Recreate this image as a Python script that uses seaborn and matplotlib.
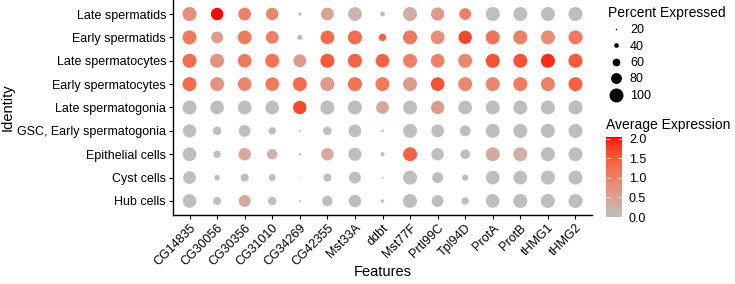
import numpy as np
import pandas as pd
import matplotlib
matplotlib.use("Agg")
import matplotlib.pyplot as plt
from matplotlib.colors import ListedColormap, Normalize
from matplotlib.lines import Line2D
import matplotlib.cm as cm
import seaborn as sns

features = ["CG14835", "CG30056", "CG30356", "CG31010", "CG34269", "CG42355",
            "Mst33A", "ddbt", "Mst77F", "Prtl99C", "Tpl94D", "ProtA", "ProtB",
            "tHMG1", "tHMG2"]
identities = ["Late spermatids", "Early spermatids", "Late spermatocytes",
              "Early spermatocytes", "Late spermatogonia",
              "GSC, Early spermatogonia", "Epithelial cells", "Cyst cells",
              "Hub cells"]

pct_expressed = [
    [100, 90, 92, 90, 32, 92, 98, 41, 100, 95, 86, 100, 100, 100, 100],
    [100, 86, 98, 92, 41, 98, 100, 58, 100, 98, 96, 100, 100, 100, 100],
    [100, 100, 98, 100, 92, 100, 100, 98, 100, 98, 100, 100, 100, 100, 100],
    [100, 100, 98, 98, 100, 100, 100, 100, 100, 98, 100, 100, 100, 100, 100],
    [100, 98, 98, 98, 96, 100, 100, 92, 100, 95, 98, 100, 100, 100, 100],
    [95, 65, 86, 58, 23, 65, 92, 27, 100, 92, 80, 100, 100, 100, 100],
    [98, 58, 90, 77, 27, 90, 95, 37, 100, 90, 72, 100, 100, 100, 100],
    [92, 45, 62, 55, 18, 62, 86, 23, 100, 80, 50, 98, 98, 100, 100],
    [98, 62, 86, 65, 23, 77, 90, 32, 100, 86, 58, 98, 100, 100, 100],
]
avg_expression = [
    [0.8, 2.05, 1.0, 0.9, 0.0, 0.5, 0.2, 0.0, 0.3, 0.6, 1.0, 0.0, 0.0, 0.0, 0.0],
    [1.1, 0.6, 1.1, 1.0, 0.3, 1.3, 1.3, 1.4, 1.1, 0.8, 1.7, 1.2, 1.0, 0.8, 1.1],
    [1.3, 0.7, 1.1, 1.2, 0.6, 1.5, 1.4, 1.4, 1.0, 1.0, 0.9, 1.6, 1.6, 1.9, 1.5],
    [1.3, 0.7, 0.9, 1.1, 1.3, 0.6, 1.2, 1.1, 0.6, 1.6, 0.9, 0.9, 1.1, 1.0, 1.4],
    [0.0, 0.0, 0.0, 0.0, 1.7, 0.0, 0.0, 0.4, 0.0, 0.6, 0.0, 0.0, 0.0, 0.0, 0.0],
    [0.0, 0.0, 0.0, 0.0, 0.0, 0.0, 0.0, 0.0, 0.0, 0.0, 0.0, 0.0, 0.0, 0.0, 0.0],
    [0.0, 0.0, 0.4, 0.25, 0.0, 0.4, 0.0, 0.0, 1.4, 0.0, 0.0, 0.35, 0.25, 0.0, 0.0],
    [0.0, 0.0, 0.0, 0.0, 0.0, 0.0, 0.0, 0.0, 0.0, 0.0, 0.0, 0.0, 0.0, 0.0, 0.0],
    [0.0, 0.0, 0.4, 0.0, 0.0, 0.0, 0.0, 0.0, 0.0, 0.0, 0.0, 0.0, 0.0, 0.0, 0.0],
]
legend_pcts = [20, 40, 60, 80, 100]
cbar_ticks = [0.0, 0.5, 1.0, 1.5, 2.0]

# ---------- Lab-interpolated grey -> red colormap (ggplot style) ----------
def srgb_to_lab(rgb):
    rgb = np.asarray(rgb, float)
    lin = np.where(rgb <= 0.04045, rgb / 12.92, ((rgb + 0.055) / 1.055) ** 2.4)
    M = np.array([[0.4124, 0.3576, 0.1805],
                  [0.2126, 0.7152, 0.0722],
                  [0.0193, 0.1192, 0.9505]])
    xyz = M @ lin / np.array([0.95047, 1.0, 1.08883])
    f = np.where(xyz > 0.008856, np.cbrt(xyz), 7.787 * xyz + 16 / 116)
    return np.array([116 * f[1] - 16, 500 * (f[0] - f[1]), 200 * (f[1] - f[2])])

def lab_to_srgb(lab):
    L, a, b = lab
    fy = (L + 16) / 116
    fx = fy + a / 500
    fz = fy - b / 200
    f = np.array([fx, fy, fz])
    xyz = np.where(f ** 3 > 0.008856, f ** 3, (f - 16 / 116) / 7.787)
    xyz = xyz * np.array([0.95047, 1.0, 1.08883])
    Minv = np.array([[3.2406, -1.5372, -0.4986],
                     [-0.9689, 1.8758, 0.0415],
                     [0.0557, -0.2040, 1.0570]])
    lin = Minv @ xyz
    rgb = np.where(lin <= 0.0031308, 12.92 * lin, 1.055 * np.clip(lin, 0, None) ** (1 / 2.4) - 0.055)
    return np.clip(rgb, 0, 1)

lo = srgb_to_lab(np.array([190, 190, 190]) / 255)
hi = srgb_to_lab(np.array([255, 0, 0]) / 255)
cmap = ListedColormap([lab_to_srgb(lo + (hi - lo) * t) for t in np.linspace(0, 1, 256)])
vmax = max(max(r) for r in avg_expression)
norm = Normalize(0, vmax)

# ---------- data frame ----------
rows = []
for i, ident in enumerate(identities):
    for j, feat in enumerate(features):
        rows.append({"Features": feat, "Identity": ident,
                     "pct": pct_expressed[i][j], "avg": avg_expression[i][j]})
df = pd.DataFrame(rows)

DPI = 100
def diam_pt(p):
    px = 1.5 + (14.0 - 1.5) * (p - 20) / 80.0
    return max(px, 0.8) * 72 / DPI

size_map = {v: diam_pt(v) ** 2 for v in df["pct"].unique()}

plt.rcParams["font.family"] = ["Liberation Sans", "DejaVu Sans"]
fig = plt.figure(figsize=(7.35, 2.84), dpi=DPI)
ax = fig.add_axes([173 / 735, 1 - 215 / 284, (592 - 173) / 735, 215 / 284])

sns.scatterplot(data=df, x="Features", y="Identity", size="pct", sizes=size_map,
                hue="avg", palette=cmap, hue_norm=norm, linewidth=0,
                legend=False, ax=ax)

ax.set_xlim(-0.6, len(features) - 0.4)
ax.set_ylim(len(identities) - 0.4, -0.6)
ax.set_xticks(range(len(features)))
ax.set_xticklabels(features, rotation=45, ha="right", rotation_mode="anchor")
ax.set_yticks(range(len(identities)))
ax.set_yticklabels(identities)
for s in ["top", "right"]:
    ax.spines[s].set_visible(False)
for s in ["left", "bottom"]:
    ax.spines[s].set_linewidth(1.0)
    ax.spines[s].set_color("black")
ax.tick_params(axis="both", length=3, width=0.8, color="black",
               labelsize=9, labelcolor="black", pad=2)
ax.set_xlabel("Features", fontsize=10.5, va="center")
ax.set_ylabel("Identity", fontsize=10.5, va="center")
ax.xaxis.set_label_coords(0.5, (215 - 272) / 215)
ax.yaxis.set_label_coords((8 - 173) / 419, 0.5)
ax.set_facecolor("white")

# ---------- size legend ----------
handles = [Line2D([], [], linestyle="none", marker="o", markersize=diam_pt(p),
                  markerfacecolor="black", markeredgewidth=0, color="black")
           for p in legend_pcts]
leg = fig.legend(handles, [str(p) for p in legend_pcts], title="Percent Expressed",
                 loc="upper left", bbox_to_anchor=(600 / 735, 1 + 2 / 284),
                 frameon=False, fontsize=9, title_fontsize=10,
                 handlelength=1.3, handletextpad=0.5, labelspacing=0.36,
                 borderpad=0.1, alignment="left")

# ---------- colorbar ----------
cax = fig.add_axes([606 / 735, 1 - 217 / 284, 16 / 735, 80 / 284])
sm = cm.ScalarMappable(norm=norm, cmap=cmap)
cb = fig.colorbar(sm, cax=cax, ticks=cbar_ticks)
cb.outline.set_visible(False)
cb.ax.set_yticklabels([f"{t:.1f}" for t in cbar_ticks])
cax.tick_params(axis="y", which="both", left=True, right=True, direction="in",
                color="white", length=3, width=0.6, labelsize=9, pad=5,
                labelleft=False, labelright=True)
fig.text(606 / 735, 1 - 125 / 284, "Average Expression", fontsize=10,
         va="center", ha="left")

fig.savefig("out.png", dpi=DPI, facecolor="white")
